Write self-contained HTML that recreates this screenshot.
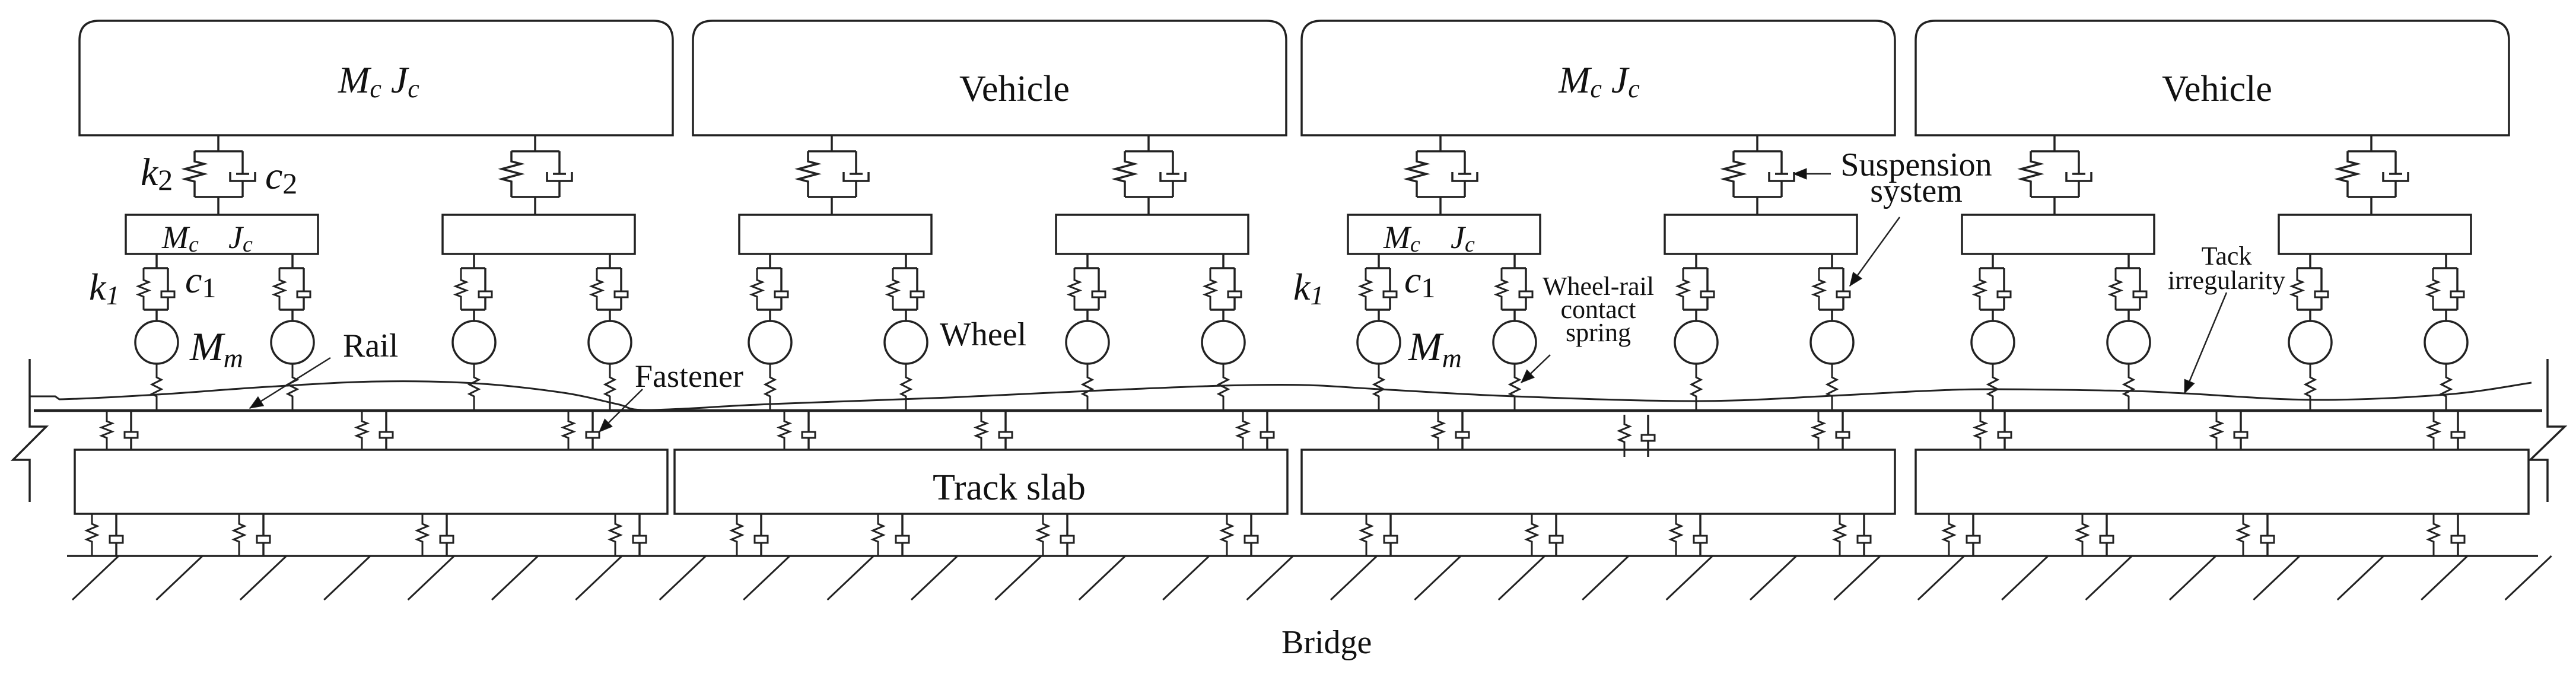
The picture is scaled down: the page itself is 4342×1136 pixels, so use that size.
<!DOCTYPE html>
<html><head><meta charset="utf-8"><style>
html,body{margin:0;padding:0;background:#fff;}
svg{display:block;}
text{font-family:"Liberation Serif",serif;fill:#111;}
.it{font-style:italic;}
</style></head><body>
<svg id="s" width="4342" height="1136" viewBox="0 0 4342 1136" xmlns="http://www.w3.org/2000/svg">
<g id="g" fill="none" stroke="#222" stroke-width="3.5"></g>
<!-- car labels -->
<text x="570" y="156" font-size="64" class="it">M<tspan font-size="44" dy="8">c</tspan><tspan dy="-8"> J</tspan><tspan font-size="44" dy="8">c</tspan></text>
<text x="2627" y="156" font-size="64" class="it">M<tspan font-size="44" dy="8">c</tspan><tspan dy="-8"> J</tspan><tspan font-size="44" dy="8">c</tspan></text>
<text x="1710" y="170" font-size="62" text-anchor="middle">Vehicle</text>
<text x="3737" y="170" font-size="62" text-anchor="middle">Vehicle</text>
<!-- k2 c2 -->
<text x="237" y="312" font-size="66" class="it">k<tspan font-size="50" dy="8" font-style="normal">2</tspan></text>
<text x="447" y="318" font-size="66" class="it">c<tspan font-size="50" dy="8" font-style="normal">2</tspan></text>
<!-- bogie labels -->
<text x="273" y="418" font-size="54" class="it">M<tspan font-size="38" dy="6">c</tspan></text>
<text x="385" y="418" font-size="54" class="it">J<tspan font-size="38" dy="6">c</tspan></text>
<text x="2332" y="418" font-size="54" class="it">M<tspan font-size="38" dy="6">c</tspan></text>
<text x="2445" y="418" font-size="54" class="it">J<tspan font-size="38" dy="6">c</tspan></text>
<!-- k1 c1 -->
<text x="150" y="505" font-size="64" class="it">k<tspan font-size="46" dy="8">1</tspan></text>
<text x="312" y="493" font-size="64" class="it">c<tspan font-size="48" dy="8" font-style="normal">1</tspan></text>
<text x="2180" y="505" font-size="64" class="it">k<tspan font-size="46" dy="8">1</tspan></text>
<text x="2367" y="493" font-size="64" class="it">c<tspan font-size="48" dy="8" font-style="normal">1</tspan></text>
<!-- Mm -->
<text x="320" y="607" font-size="68" class="it">M<tspan font-size="46" dy="12">m</tspan></text>
<text x="2374" y="607" font-size="68" class="it">M<tspan font-size="46" dy="12">m</tspan></text>
<!-- annotations -->
<text x="578" y="601" font-size="56">Rail</text>
<text x="1070" y="652" font-size="54">Fastener</text>
<text x="1584" y="582" font-size="56">Wheel</text>
<text x="2694" y="497" font-size="44" text-anchor="middle">Wheel-rail</text>
<text x="2694" y="536" font-size="44" text-anchor="middle">contact</text>
<text x="2694" y="575" font-size="44" text-anchor="middle">spring</text>
<text x="3230" y="296" font-size="56" text-anchor="middle">Suspension</text>
<text x="3230" y="340" font-size="56" text-anchor="middle">system</text>
<text x="3753" y="446" font-size="44" text-anchor="middle">Tack</text>
<text x="3753" y="487" font-size="44" text-anchor="middle">irregularity</text>
<text x="1701" y="842" font-size="62" text-anchor="middle">Track slab</text>
<text x="2160" y="1101" font-size="56">Bridge</text>
</svg>
<script>
(function(){
var g=document.getElementById('g');var NS='http://www.w3.org/2000/svg';
function el(t,a){var e=document.createElementNS(NS,t);for(var k in a)e.setAttribute(k,a[k]);g.appendChild(e);return e;}
function L(x1,y1,x2,y2,w){el('line',{x1:x1,y1:y1,x2:x2,y2:y2,'stroke-width':w||3.5});}
function P(d,w,f){el('path',{d:d,'stroke-width':w||3.5,fill:f||'none'});}
function R(x,y,w,h,sw){el('rect',{x:x,y:y,width:w,height:h,'stroke-width':sw||3.5,fill:'#fff'});}
function spring(x,y1,y2,z1,z2,a,n,w){
 var d='M'+x+' '+y1+' L'+x+' '+z1;var h=(z2-z1)/n;
 for(var i=0;i<n;i++){var yy=z1+h*(i+0.5);d+=' L'+(x+(i%2?-a:a))+' '+yy;}
 d+=' L'+x+' '+z2+' L'+x+' '+y2;P(d,w);}
function rdamp(x,y1,y2,b1,b2,hw){L(x,y1,x,b1);L(x,b2,x,y2);R(x-hw,b1,2*hw,b2-b1,3);}
var lefts=[134,1168,2194,3229];
var secO=[234,768],bogO=[[78,402],[612,936]],whO=[130,359,665,894];
lefts.forEach(function(c){
 el('path',{d:'M'+c+' 228 L'+c+' 68 Q'+c+' 35 '+(c+33)+' 35 L'+(c+967)+' 35 Q'+(c+1000)+' 35 '+(c+1000)+' 68 L'+(c+1000)+' 228 Z','stroke-width':3.5,fill:'#fff'});
 for(var b=0;b<2;b++){
  var s=c+secO[b];var xl=s-40,xr=s+41;
  L(s,228,s,255);L(xl,255,xr,255);L(xl,332,xr,332);L(s,332,s,362);
  spring(xl,255,332,272,306,16,4,3.5);
  L(xr,255,xr,293);L(xr-11,293,xr+11,293);P('M'+(xr-21)+' 290 L'+(xr-21)+' 305 L'+(xr+21)+' 305 L'+(xr+21)+' 290');L(xr,305,xr,332);
  R(c+bogO[b][0],362,bogO[b][1]-bogO[b][0],66);
  for(var w=0;w<2;w++){
   var wx=c+whO[b*2+w];var pl=wx-22,pr=wx+19;
   L(wx,428,wx,452);L(pl,452,pr,452);L(pl,522,pr,522);L(wx,522,wx,540);
   spring(pl,452,522,472,500,9,4,3);
   rdamp(pr,452,522,491,501,11);
   el('circle',{cx:wx,cy:577,r:36,'stroke-width':3.5,fill:'none'});
   spring(wx,613,692,636,668,8,4,3);
  }
 }
});
// slabs
[[126,1125],[1137,2170],[2194,3194],[3229,4262]].forEach(function(s){R(s[0],758,s[1]-s[0],108);});
// rail
L(57,692,4285,692,4.5);
// fasteners
[180,610,958,1322,1654,2095,2424,3065,3338,3736,4102].forEach(function(x){
 spring(x,692,758,710,738,9,4,3);rdamp(x+41,692,758,728,738,11);});
spring(2738,699,770,715,745,9,4,3);rdamp(2778,699,770,733,743,11);
// lower
[155,403,712,1037,1242,1480,1758,2068,2303,2582,2825,3101,3285,3510,3781,4102].forEach(function(x){
 spring(x,866,937,883,913,9,4,3);rdamp(x+41,866,937,903,915,11);});
// ground
L(113,937,4278,937,3.5);
for(var k=0;k<30;k++){var x=200+k*141.4;L(x,937,x-78,1011,3);}
// breaks
P('M50 605 L50 719 L78 719 L22 775 L50 775 L50 846',3.5);
P('M4294 605 L4294 719 L4323 719 L4265 775 L4294 775 L4294 846',3.5);
// irregularity
var pts=[[50,668],[93,668],[100,673],[265,665],[450,652],[635,643],[800,646],[950,662],[1040,681],[1094,691],[1299,681],[1600,670],[1834,659],[2062,650],[2200,649],[2325,656],[2553,668],[2860,676],[3089,667],[3242,659],[3361,656],[3592,659],[3682,663],[3902,674],[4123,665],[4267,645]];
var d='M'+pts[0][0]+' '+pts[0][1];
for(var i=1;i<pts.length;i++){var p0=pts[Math.max(0,i-2)],p1=pts[i-1],p2=pts[i],p3=pts[Math.min(pts.length-1,i+1)];
 if(i<3){d+=' L'+p2[0]+' '+p2[1];continue;}
 d+=' C'+(p1[0]+(p2[0]-p0[0])/6)+' '+(p1[1]+(p2[1]-p0[1])/6)+' '+(p2[0]-(p3[0]-p1[0])/6)+' '+(p2[1]-(p3[1]-p1[1])/6)+' '+p2[0]+' '+p2[1];}
P(d,3);
// arrows
function arrow(x1,y1,x2,y2){L(x1,y1,x2,y2,2.5);var a=Math.atan2(y2-y1,x2-x1),l=22,w=9;
 var bx=x2-l*Math.cos(a),by=y2-l*Math.sin(a);
 el('polygon',{points:x2+','+y2+' '+(bx+w*Math.sin(a))+','+(by-w*Math.cos(a))+' '+(bx-w*Math.sin(a))+','+(by+w*Math.cos(a)),fill:'#111','stroke-width':1});}
arrow(557,603,421,688);
arrow(1083,656,1010,728);
arrow(2613,598,2564,645);
arrow(3086,293,3023,293);
arrow(3202,366,3118,482);
arrow(3753,493,3682,663);
})();
</script>
</body></html>
